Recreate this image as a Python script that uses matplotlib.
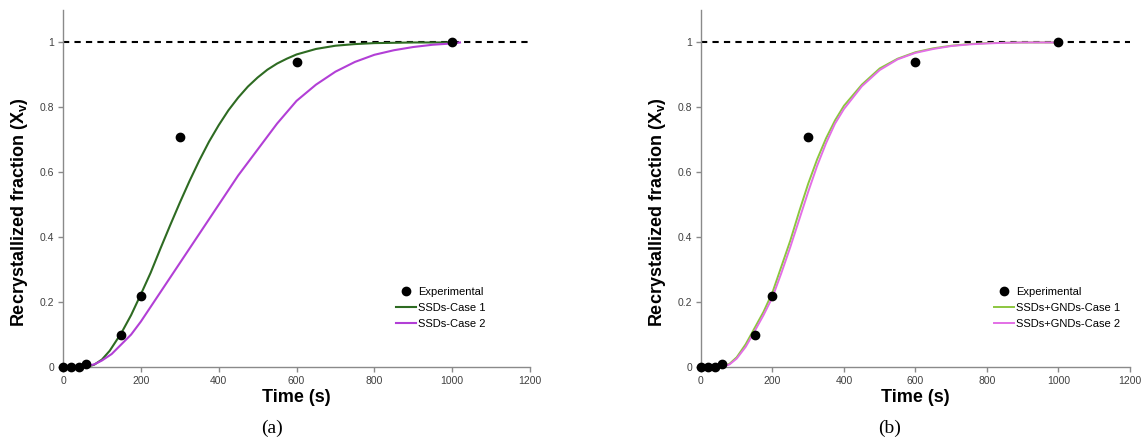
import matplotlib
matplotlib.use("Agg")
import matplotlib.pyplot as plt

plt.rcParams['font.family'] = ['Liberation Sans', 'DejaVu Sans']
plt.rcParams['mathtext.fontset'] = 'custom'
plt.rcParams['mathtext.rm'] = 'Liberation Sans:bold'

# Experimental points (same in both panels)
exp_t = [0, 20, 40, 60, 150, 200, 300, 600, 1000]
exp_x = [0, 0, 0, 0.01, 0.10, 0.22, 0.71, 0.94, 1.0]

# Panel (a): SSDs only
a1_t = [60, 80, 100, 120, 150, 175, 200, 225, 250, 275, 300, 325, 350, 375,
        400, 425, 450, 475, 500, 525, 550, 575, 600, 650, 700, 750, 800,
        850, 900, 1000]
a1_x = [0.0, 0.007, 0.023, 0.05, 0.105, 0.16, 0.224, 0.29, 0.364, 0.436,
        0.506, 0.573, 0.636, 0.694, 0.745, 0.791, 0.83, 0.864, 0.892, 0.916,
        0.935, 0.95, 0.963, 0.98, 0.99, 0.995, 0.998, 0.999, 1.0, 1.0]
a2_t = [60, 80, 100, 125, 150, 175, 200, 225, 250, 275, 300, 325, 350, 375,
        400, 425, 450, 475, 500, 525, 550, 575, 600, 625, 650, 675, 700,
        750, 800, 850, 900, 950, 1000, 1020]
a2_x = [0.003, 0.008, 0.02, 0.04, 0.07, 0.10, 0.14, 0.185, 0.23, 0.275,
        0.32, 0.365, 0.41, 0.455, 0.50, 0.545, 0.59, 0.63, 0.67, 0.71, 0.75,
        0.785, 0.82, 0.845, 0.87, 0.89, 0.91, 0.94, 0.962, 0.976, 0.986,
        0.993, 0.997, 1.0]

# Panel (b): SSDs + GNDs
b_t = [60, 80, 100, 125, 150, 175, 200, 225, 250, 275, 300, 325, 350, 375,
       400, 450, 500, 550, 600, 650, 700, 750, 800, 850, 900, 1000]
b1_x = [0.0, 0.01, 0.03, 0.07, 0.12, 0.17, 0.23, 0.31, 0.39, 0.48, 0.565,
        0.64, 0.705, 0.76, 0.805, 0.87, 0.92, 0.95, 0.97, 0.982, 0.99,
        0.995, 0.998, 0.999, 1.0, 1.0]
b2_x = [0.0, 0.008, 0.026, 0.062, 0.11, 0.16, 0.215, 0.29, 0.37, 0.455,
        0.54, 0.62, 0.69, 0.75, 0.795, 0.865, 0.915, 0.948, 0.968, 0.98,
        0.989, 0.994, 0.997, 0.999, 1.0, 1.0]

x_ticks = [0, 200, 400, 600, 800, 1000, 1200]
y_ticks = [0, 0.2, 0.4, 0.6, 0.8, 1.0]
y_tick_labels = ['0', '0.2', '0.4', '0.6', '0.8', '1']

fig = plt.figure(figsize=(11.48, 4.41), dpi=100)
ax_a = fig.add_axes([0.0549, 0.1678, 0.4068, 0.8095])
ax_b = fig.add_axes([0.6106, 0.1678, 0.3737, 0.8095])


def style_axis(ax):
    ax.set_xlim(0, 1200)
    ax.set_ylim(0, 1.1)
    ax.set_xticks(x_ticks)
    ax.set_xticklabels([str(t) for t in x_ticks])
    ax.set_yticks(y_ticks)
    ax.set_yticklabels(y_tick_labels)
    for s in ['top', 'right']:
        ax.spines[s].set_visible(False)
    for s in ['left', 'bottom']:
        ax.spines[s].set_color('#8a8a8a')
        ax.spines[s].set_linewidth(1.0)
    ax.tick_params(colors='#8a8a8a', labelcolor='#404040', labelsize=7.5,
                   length=3.5, width=1.0, direction='out', pad=3)
    ax.axhline(1.0, color='black', lw=1.5, ls=(0, (3, 2.5)), zorder=1)


def add_legend(ax, xpos):
    ax.legend(loc='upper left', bbox_to_anchor=(xpos, 0.225), frameon=False,
              fontsize=8, handlelength=1.8, handletextpad=0.15,
              labelspacing=0.55, borderpad=0, borderaxespad=0)


# (a)
style_axis(ax_a)
ax_a.plot(exp_t, exp_x, 'o', color='black', ms=6, label='Experimental',
          zorder=4, clip_on=False)
ax_a.plot(a1_t, a1_x, color='#2e6b22', lw=1.5, label='SSDs-Case 1', zorder=3)
ax_a.plot(a2_t, a2_x, color='#b23fd6', lw=1.5, label='SSDs-Case 2', zorder=3)
add_legend(ax_a, 0.713)

# (b)
style_axis(ax_b)
ax_b.plot(exp_t, exp_x, 'o', color='black', ms=6, label='Experimental',
          zorder=4, clip_on=False)
ax_b.plot(b_t, b1_x, color='#8cc63f', lw=1.4, label='SSDs+GNDs-Case 1',
          zorder=3)
ax_b.plot(b_t, b2_x, color='#e36fe6', lw=1.4, label='SSDs+GNDs-Case 2',
          zorder=3)
add_legend(ax_b, 0.683)

ylabel = r'Recrystallized fraction (X$_{\mathrm{v}}$)'
for ax, xl, tag, tag_x in [(ax_a, 20, '(a)', 272), (ax_b, 658, '(b)', 890)]:
    pos = ax.get_position()
    cx = (pos.x0 + pos.x1) / 2
    fig.text(cx, 1 - 398 / 441, 'Time (s)', ha='center', va='center',
             fontsize=13, fontweight='bold')
    fig.text(xl / 1148, 1 - 212 / 441, ylabel, rotation=90, ha='center',
             va='center', fontsize=13, fontweight='bold')
    fig.text(tag_x / 1148, 1 - 428 / 441, tag, ha='center', va='center',
             fontsize=14, family=['Liberation Serif', 'DejaVu Serif'])

fig.savefig('out.png', dpi=100)
